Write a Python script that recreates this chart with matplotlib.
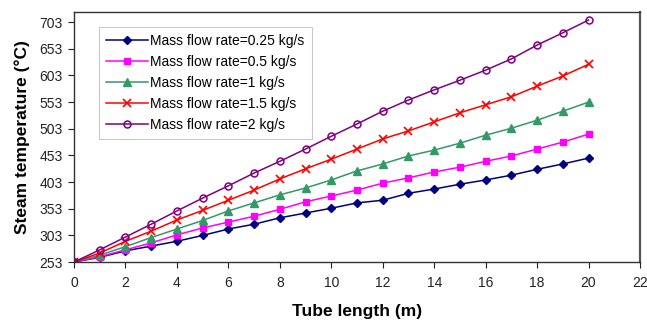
import matplotlib
matplotlib.use("Agg")
import matplotlib.pyplot as plt

plt.rcParams['font.family'] = ['Liberation Sans', 'DejaVu Sans']

x = list(range(0, 21))
flow_025 = [253, 262, 274, 283, 292, 303, 315, 324, 336, 345, 354, 364, 369, 382, 390, 399, 407, 416, 427, 437, 448]
flow_05 = [253, 263, 276, 289, 304, 317, 328, 339, 352, 366, 377, 388, 401, 411, 422, 431, 442, 452, 465, 478, 493]
flow_1 = [253, 266, 282, 299, 315, 331, 349, 364, 379, 392, 407, 424, 437, 452, 463, 476, 491, 504, 519, 536, 553]
flow_15 = [253, 270, 292, 311, 332, 350, 369, 388, 409, 428, 446, 465, 484, 499, 516, 533, 548, 563, 583, 602, 624]
flow_2 = [253, 276, 300, 324, 349, 373, 396, 420, 442, 465, 489, 512, 536, 557, 576, 594, 613, 634, 660, 683, 707]

labels = ["Mass flow rate=0.25 kg/s", "Mass flow rate=0.5 kg/s", "Mass flow rate=1 kg/s",
          "Mass flow rate=1.5 kg/s", "Mass flow rate=2 kg/s"]
xticks = list(range(0, 23, 2))
yticks = list(range(253, 704, 50))

fig = plt.figure(figsize=(6.47, 3.2), dpi=100)
ax = fig.add_axes([0.1144, 0.181, 0.8748, 0.7815])

ax.plot(x, flow_025, color='#000080', marker='D', markersize=4, lw=1.1, label=labels[0])
ax.plot(x, flow_05, color='#FF00FF', marker='s', markersize=5, lw=1.1, label=labels[1])
ax.plot(x, flow_1, color='#339966', marker='^', markersize=6, lw=1.1, label=labels[2])
ax.plot(x, flow_15, color='#FF0000', marker='x', markersize=6, mew=1.2, lw=1.1, label=labels[3])
ax.plot(x, flow_2, color='#800080', marker='o', markersize=5, mfc='none', mew=1.1, lw=1.1, label=labels[4])

ax.set_xlim(0, 22)
ax.set_ylim(253, 722)
ax.set_xticks(xticks)
ax.set_yticks(yticks)
ax.tick_params(axis='both', direction='out', length=4, labelsize=10, colors='#222222', width=0.8)
ax.tick_params(axis='x', pad=6)
ax.tick_params(axis='y', pad=4)
for s in ax.spines.values():
    s.set_color('#333333')
    s.set_linewidth(1.0)
ax.spines['right'].set_linewidth(1.6)
ax.spines['right'].set_color('#555555')

ax.set_xlabel('Tube length (m)', fontsize=12.5, fontweight='bold', labelpad=10)
ax.set_ylabel('Steam temperature (°C)', fontsize=12.5, fontweight='bold', labelpad=7)

leg = ax.legend(loc='upper left', bbox_to_anchor=(0.044, 0.94), fontsize=10, frameon=True,
                fancybox=False, edgecolor='#bbbbbb', handlelength=3.0, handletextpad=0.2,
                labelspacing=0.5, borderpad=0.5, borderaxespad=0)
leg.get_frame().set_linewidth(0.8)

fig.savefig('out.png', dpi=100)
